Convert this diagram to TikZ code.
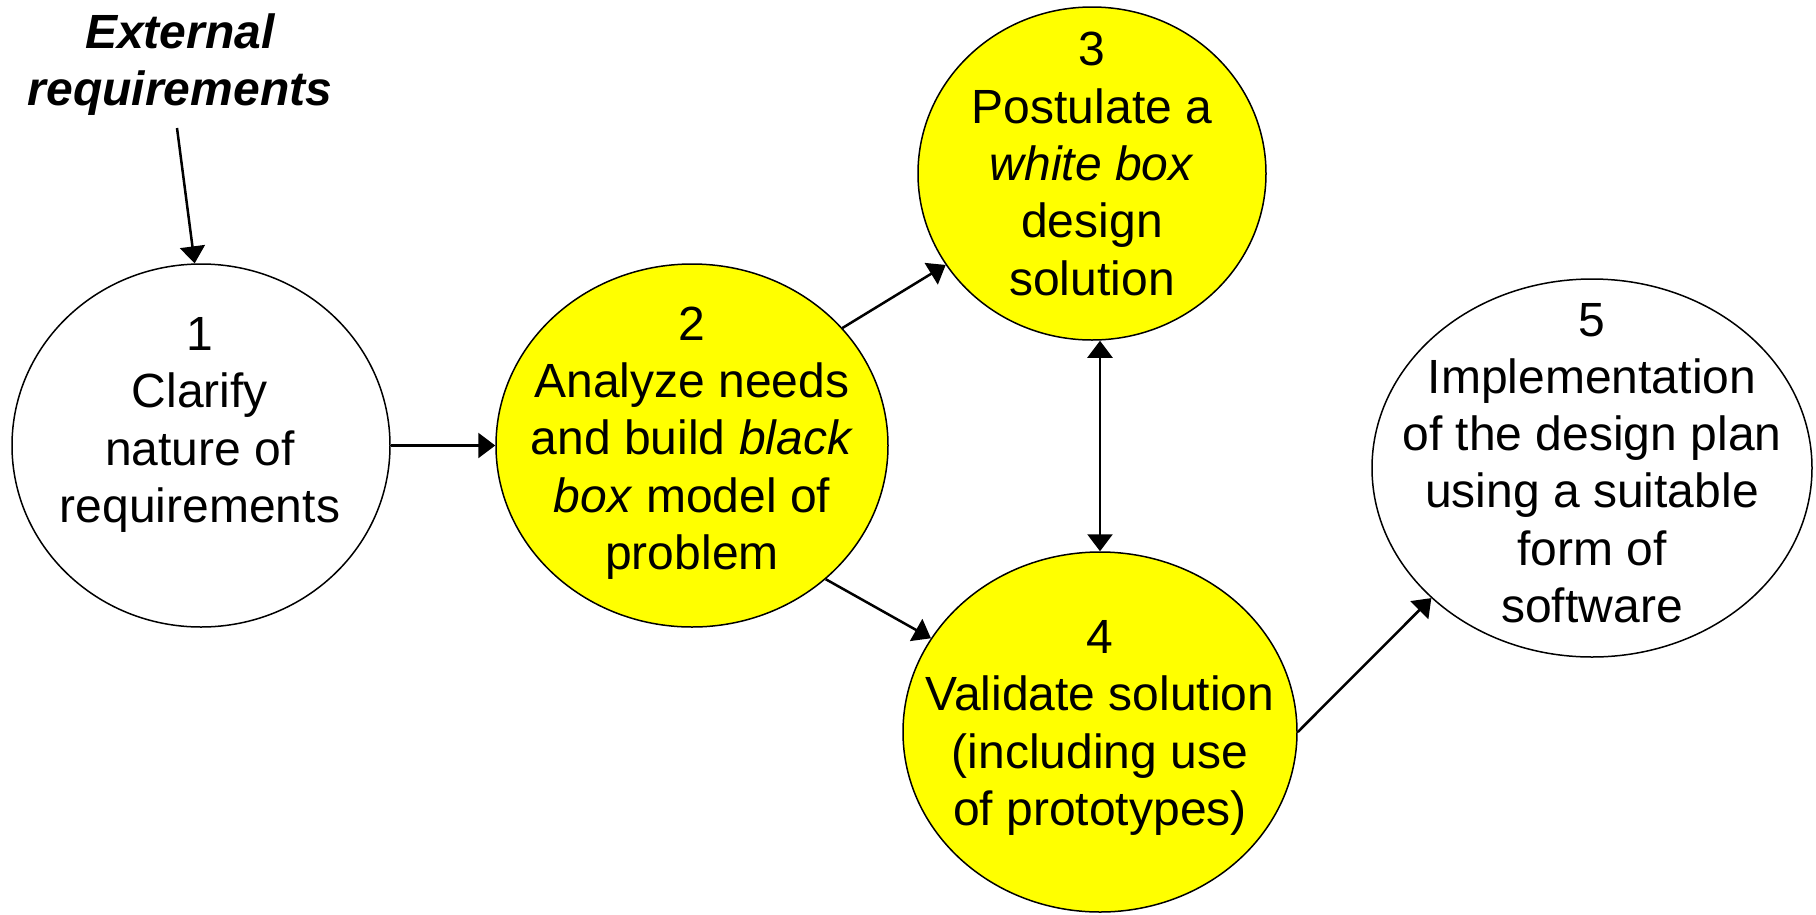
\documentclass[tikz,border=0pt]{standalone}
\usepackage{fontspec}
\setmainfont{Liberation Sans}
\usetikzlibrary{shapes.geometric,arrows.meta}
\definecolor{stageyellow}{RGB}{255,255,0}
\tikzset{
  stage/.style={draw=black, line width=1.5pt, ellipse, inner sep=0pt},
  hot/.style={stage, fill=stageyellow},
  cold/.style={stage, fill=white},
  txt/.style={align=center, font=\fontsize{48}{57.3}\selectfont, inner sep=0pt},
  tip/.style={Triangle[length=17pt,width=25pt]},
  arr/.style={line width=2.5pt, -{Triangle[length=17pt,width=25pt]}},
  darr/.style={line width=2.5pt, {Triangle[length=17pt,width=25pt]}-{Triangle[length=17pt,width=25pt]}}
}
\begin{document}
\begin{tikzpicture}[x=1pt, y=-1pt]
\useasboundingbox (0,0) rectangle (1816,914);
% ellipses
\node[cold, minimum width=378pt, minimum height=363pt] (n1) at (201,445.5) {};
\node[hot,  minimum width=392pt, minimum height=363pt] (n2) at (692,445.5) {};
\node[hot,  minimum width=348pt, minimum height=333pt] (n3) at (1092,173.5) {};
\node[hot,  minimum width=394pt, minimum height=360pt] (n4) at (1100,732) {};
\node[cold, minimum width=440pt, minimum height=378pt] (n5) at (1592,468) {};
% texts
\node[txt] (t1) at (200,425) {1\\Clarify\\nature of\\requirements};
\node[txt] (t2) at (692,443) {2\\Analyze needs\\and build \textit{black}\\\textit{box} model of\\problem};
\node[txt] (t3) at (1092,164) {3\\Postulate a\\\textit{white box}\\design\\solution};
\node[txt] (t4) at (1100,728) {4\\Validate solution\\(including use\\of prototypes)};
\node[txt] (t5) at (1592,463) {5\\Implementation\\of the design plan\\using a suitable\\form of\\software};
\node[txt, font=\fontsize{48}{57}\selectfont\bfseries\itshape] (ext) at (180,65) {External\\requirements};
\coordinate (ext0) at (177,128);
% connectors
\draw[arr] (ext0) -- (n1.92.5);
\draw[arr] (n1) -- (n2);
\draw[arr] (n2.38.6) -- (n3.212.5);
\draw[arr] (n2.-45.3) -- (n4.151.1);
\draw[darr] (n4.north |- n3.south) -- (n4.north);
\draw[arr] (n4.east) -- (n5.219.1);
\end{tikzpicture}
\end{document}
